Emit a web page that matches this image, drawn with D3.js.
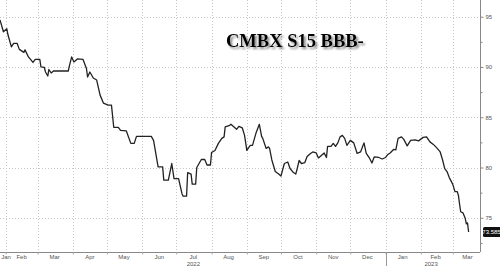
<!DOCTYPE html>
<html><head><meta charset="utf-8">
<script src="https://cdn.jsdelivr.net/npm/d3@7"></script>
<style>html,body{margin:0;padding:0;background:#fff;}svg{display:block;}</style>
</head><body>
<svg id="c" width="500" height="266"></svg>
<script>
const title = "CMBX S15 BBB-";
const dates = ["2022-01-27","2022-01-30","2022-02-02","2022-02-03","2022-02-06","2022-02-08","2022-02-11","2022-02-13","2022-02-15","2022-02-17","2022-02-18","2022-02-21","2022-02-25","2022-02-27","2022-03-03","2022-03-04","2022-03-07","2022-03-08","2022-03-10","2022-03-11","2022-03-13","2022-03-15","2022-03-28","2022-03-29","2022-03-31","2022-04-02","2022-04-05","2022-04-10","2022-04-13","2022-04-14","2022-04-16","2022-04-19","2022-04-22","2022-04-25","2022-04-28","2022-05-02","2022-05-05","2022-05-07","2022-05-11","2022-05-13","2022-05-18","2022-05-22","2022-05-25","2022-05-27","2022-06-09","2022-06-11","2022-06-15","2022-06-19","2022-06-20","2022-06-24","2022-06-27","2022-06-29","2022-07-03","2022-07-06","2022-07-07","2022-07-10","2022-07-11","2022-07-14","2022-07-15","2022-07-18","2022-07-19","2022-07-23","2022-07-26","2022-07-28","2022-07-31","2022-08-01","2022-08-04","2022-08-07","2022-08-10","2022-08-12","2022-08-13","2022-08-17","2022-08-18","2022-08-20","2022-08-23","2022-08-25","2022-08-28","2022-08-30","2022-09-01","2022-09-04","2022-09-06","2022-09-09","2022-09-12","2022-09-14","2022-09-15","2022-09-18","2022-09-20","2022-09-21","2022-09-23","2022-09-26","2022-09-29","2022-10-01","2022-10-04","2022-10-07","2022-10-09","2022-10-12","2022-10-14","2022-10-15","2022-10-17","2022-10-19","2022-10-22","2022-10-24","2022-10-27","2022-10-29","2022-11-01","2022-11-03","2022-11-06","2022-11-08","2022-11-10","2022-11-11","2022-11-14","2022-11-16","2022-11-18","2022-11-20","2022-11-22","2022-11-24","2022-11-26","2022-11-28","2022-12-01","2022-12-04","2022-12-07","2022-12-10","2022-12-13","2022-12-15","2022-12-18","2022-12-20","2022-12-22","2022-12-26","2022-12-29","2023-01-01","2023-01-03","2023-01-05","2023-01-08","2023-01-10","2023-01-12","2023-01-15","2023-01-17","2023-01-20","2023-01-23","2023-01-27","2023-01-30","2023-02-03","2023-02-06","2023-02-09","2023-02-12","2023-02-15","2023-02-18","2023-02-20","2023-02-22","2023-02-24","2023-02-26","2023-03-01","2023-03-03","2023-03-05","2023-03-06","2023-03-07","2023-03-08","2023-03-10","2023-03-12","2023-03-13","2023-03-14","2023-03-15"];
const values = [94.67,93.5,93.8,93.2,92.0,92.35,92.35,91.75,91.6,91.45,91.7,91.0,90.45,90.75,90.75,90.0,89.95,89.5,89.1,89.75,89.4,89.6,89.6,90.1,91.0,90.5,90.8,90.75,89.85,89.0,89.5,88.9,88.7,87.2,86.4,86.2,86.2,84.0,84.0,83.7,83.65,82.4,82.4,83.1,83.1,82.7,80.07,80.07,78.75,78.75,80.4,78.9,78.9,77.4,77.15,77.15,79.5,79.35,78.35,78.35,80.0,80.8,80.8,80.25,80.25,81.5,81.7,82.4,82.9,83.05,84.05,84.2,84.3,84.1,83.8,84.1,83.95,83.2,81.7,82.2,82.2,83.4,84.3,83.1,82.9,81.9,82.05,81.9,80.75,79.6,79.35,79.15,80.4,80.55,79.9,79.5,79.35,79.75,80.7,80.4,80.5,81.1,81.4,81.55,81.45,80.95,81.25,81.45,81.0,82.1,82.1,82.4,82.1,82.45,83.05,83.2,82.9,82.2,82.7,82.45,81.4,81.55,82.45,81.4,80.9,80.45,81.05,81.0,80.85,81.0,81.3,81.45,81.8,81.75,82.9,83.05,82.8,82.15,82.7,82.75,82.65,83.0,83.05,82.55,82.3,81.95,81.55,80.8,79.9,79.6,79.0,78.35,77.6,77.6,77.25,76.4,75.6,75.5,74.95,74.4,74.5,73.585];
const yTicks = [75, 80, 85, 90, 95];
const yMinorTicks = [72.5, 77.5, 82.5, 87.5, 92.5];
const monthStarts = ["2022-02-01","2022-03-01","2022-04-01","2022-05-01","2022-06-01","2022-07-01","2022-08-01","2022-09-01","2022-10-01","2022-11-01","2022-12-01","2023-01-01","2023-02-01","2023-03-01"];
const monthLabels = ["Jan","Feb","Mar","Apr","May","Jun","Jul","Aug","Sep","Oct","Nov","Dec","Jan","Feb","Mar"];
const monthLabelDates = ["2022-01-29","2022-02-15","2022-03-16","2022-04-16","2022-05-16","2022-06-16","2022-07-16","2022-08-16","2022-09-16","2022-10-16","2022-11-16","2022-12-16","2023-01-16","2023-02-14","2023-03-14"];
const yearLabels = ["2022","2023"];
const yearLabelDates = ["2022-07-16","2023-02-10"];
const yearBreak = "2023-01-01";
const lastLabel = "73.585";

const parse = d3.timeParse("%Y-%m-%d");
const data = dates.map((d,i)=>({date:parse(d), value:values[i]}));
const svg = d3.select("#c");
const W = 480, H = 252;
const x = d3.scaleTime().domain([parse("2022-01-27"), parse("2023-03-25")]).range([0, W]);
const y = d3.scaleLinear().domain([71.6, 96.66]).range([H, 0]);

// grid
const grid = svg.append("g");
grid.selectAll("line.h").data(yTicks).join("line")
  .attr("x1",0).attr("x2",W).attr("y1",d=>Math.round(y(d))+0.5).attr("y2",d=>Math.round(y(d))+0.5)
  .attr("stroke","#c8c8c8").attr("stroke-width",1).attr("stroke-dasharray","1,2");
grid.selectAll("line.v").data(monthStarts.map(parse)).join("line")
  .attr("x1",d=>Math.round(x(d))+0.5).attr("x2",d=>Math.round(x(d))+0.5).attr("y1",0).attr("y2",H)
  .attr("stroke","#c8c8c8").attr("stroke-width",1).attr("stroke-dasharray","1,2");

// axes
const yAxis = d3.axisRight(y).tickValues(yTicks).tickSize(3).tickPadding(2).tickFormat(d3.format("d"));
const ya = svg.append("g").attr("transform",`translate(${W+0.5},0)`).call(yAxis);
ya.select(".domain").attr("stroke","#888").attr("d",`M0,0V${H}`);
ya.selectAll(".tick line").attr("stroke","#888");
ya.selectAll(".tick text").attr("fill","#555").style("font-family","Arial, 'Liberation Sans', sans-serif").style("font-size","6px");
const yMinor = d3.axisRight(y).tickValues(yMinorTicks).tickSize(2).tickFormat("");
const ym = svg.append("g").attr("transform",`translate(${W+0.5},0)`).call(yMinor);
ym.select(".domain").remove();
ym.selectAll(".tick line").attr("stroke","#888");

const xAxis = d3.axisBottom(x).tickValues(monthStarts.map(parse)).tickSize(2).tickFormat("");
const xa = svg.append("g").attr("transform",`translate(0,${H+0.5})`).call(xAxis);
xa.select(".domain").attr("stroke","#888").attr("d",`M0,0H${W}`);
xa.selectAll(".tick line").attr("stroke","#aaa");

const lblFont = "Arial, 'Liberation Sans', sans-serif";
svg.append("g").selectAll("text").data(monthLabels).join("text")
  .attr("x",(d,i)=>Math.max(6, x(parse(monthLabelDates[i])))).attr("y",259)
  .attr("text-anchor","middle").attr("fill","#555").style("font-family",lblFont).style("font-size","6px").text(d=>d);
svg.append("g").selectAll("text").data(yearLabels).join("text")
  .attr("x",(d,i)=>x(parse(yearLabelDates[i]))).attr("y",265.5)
  .attr("text-anchor","middle").attr("fill","#555").style("font-family",lblFont).style("font-size","6px").text(d=>d);
svg.append("line").attr("x1",Math.round(x(parse(yearBreak)))+0.5).attr("x2",Math.round(x(parse(yearBreak)))+0.5)
  .attr("y1",H+1).attr("y2",266).attr("stroke","#999").attr("stroke-width",1);

// line
svg.append("path").datum(data)
  .attr("d", d3.line().x(d=>x(d.date)).y(d=>y(d.value)))
  .attr("fill","none").attr("stroke","#222").attr("stroke-width",1.3).attr("stroke-linejoin","round");

// last value label
const lastY = y(values[values.length-1]);
svg.append("rect").attr("x",483).attr("y",lastY-5).attr("width",18).attr("height",10).attr("rx",1.5).attr("fill","#111");
svg.append("text").attr("x",491.5).attr("y",lastY+2).attr("text-anchor","middle").attr("fill","#fff")
  .style("font-family",lblFont).style("font-size","6px").text(lastLabel);

// title with shadow
const defs = svg.append("defs");
const f = defs.append("filter").attr("id","sh").attr("x","-10%").attr("y","-30%").attr("width","130%").attr("height","180%");
f.append("feDropShadow").attr("dx",2).attr("dy",2).attr("stdDeviation",1).attr("flood-color","#666").attr("flood-opacity",0.8);
svg.append("text").attr("x",226).attr("y",47).attr("filter","url(#sh)")
  .style("font-family","'Liberation Serif','Times New Roman',serif").style("font-weight","bold").style("font-size","18.5px")
  .attr("fill","#000").text(title);
</script>
</body></html>
